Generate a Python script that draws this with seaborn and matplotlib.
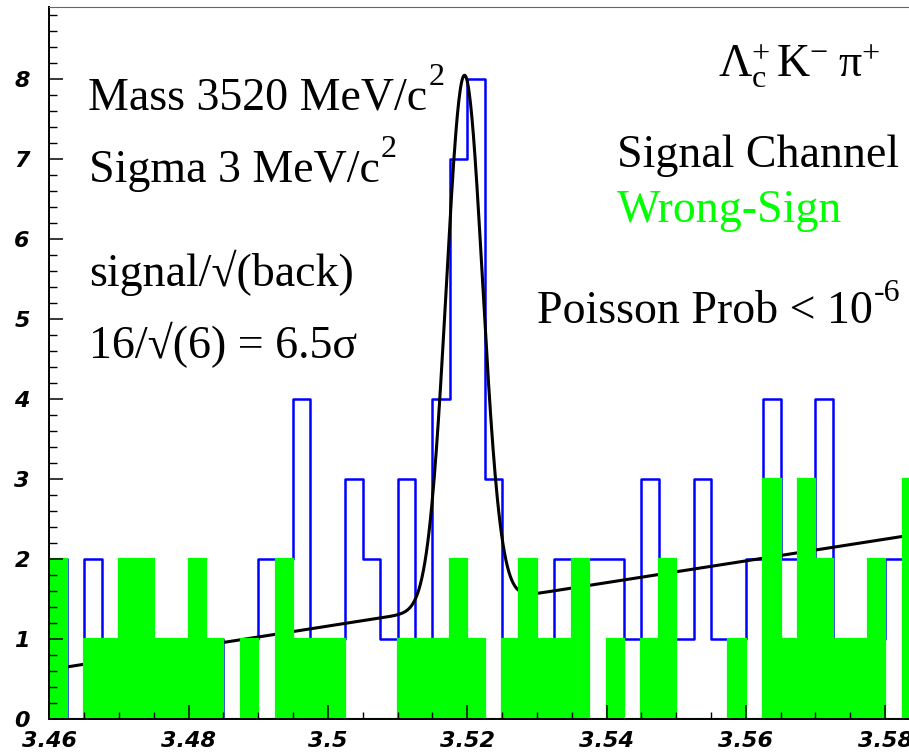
import numpy as np
import pandas as pd
import matplotlib
matplotlib.use("Agg")
import matplotlib.pyplot as plt
from matplotlib.ticker import MultipleLocator
import seaborn as sns

# Invariant mass of Lambda_c+ K- pi+ candidates, 2.5 MeV/c^2 bins from 3.46 GeV/c^2
bin_start = 3.46
bin_width = 0.0025
signal_counts = [2, 0, 2, 1, 1, 1, 1, 1, 1, 1,
                 0, 1, 2, 2, 4, 1, 1, 3, 2, 1,
                 3, 1, 4, 7, 8, 3, 1, 1, 1, 2,
                 2, 2, 2, 1, 3, 1, 1, 3, 1, 1,
                 2, 4, 2, 2, 4, 1, 1, 1, 2, 2]
wrong_sign_counts = [2, 0, 1, 1, 2, 2, 1, 1, 2, 1,
                     0, 1, 0, 2, 1, 1, 1, 0, 0, 0,
                     1, 1, 1, 2, 1, 0, 1, 2, 1, 1,
                     2, 0, 1, 0, 1, 2, 0, 0, 0, 1,
                     0, 3, 1, 3, 2, 1, 1, 2, 0, 3]

# Gaussian peak on a linear background
fit_mass = 3.5196
fit_sigma = 0.0026
fit_amplitude = 6.62
bg_intercept = 0.62   # value at 3.46
bg_slope = 13.6       # per GeV/c^2

xtick_values = [3.46, 3.48, 3.50, 3.52, 3.54, 3.56, 3.58]
xtick_labels = ["3.46", "3.48", "3.5", "3.52", "3.54", "3.56", "3.58"]
ytick_values = [0, 1, 2, 3, 4, 5, 6, 7, 8]

edges = bin_start + bin_width * np.arange(len(signal_counts) + 1)
centers = edges[:-1] + bin_width / 2
bin_edges = [float(e) for e in edges]
hist_df = pd.DataFrame({"mass": centers,
                        "signal": signal_counts,
                        "wrong_sign": wrong_sign_counts})

m_grid = np.linspace(edges[0], edges[-1], 1200)
fit_curve = (bg_intercept + bg_slope * (m_grid - bin_start)
             + fit_amplitude * np.exp(-0.5 * ((m_grid - fit_mass) / fit_sigma) ** 2))
fit_df = pd.DataFrame({"mass": m_grid, "fit": fit_curve})

plt.rcParams["mathtext.fontset"] = "custom"
plt.rcParams["mathtext.rm"] = "Liberation Serif"
plt.rcParams["mathtext.it"] = "Liberation Serif:italic"
plt.rcParams["mathtext.bf"] = "Liberation Serif:bold"

W, H = 909, 755
fig = plt.figure(figsize=(W / 100, H / 100), dpi=100)
x0_px, y0_px = 49.3, 719.3
px_per_gev = 6965.0
px_per_count = 80.0
x_lo, x_hi = 3.46, 3.585
y_lo, y_hi = 0.0, 8.9
ax = fig.add_axes([x0_px / W, (H - y0_px) / H,
                   (x_hi - x_lo) * px_per_gev / W,
                   (y_hi - y_lo) * px_per_count / H])

# signal channel: open blue histogram
sns.histplot(data=hist_df, x="mass", weights="signal", bins=bin_edges,
             element="step", fill=False, color="#0000ff", linewidth=1.8,
             zorder=1.0, ax=ax)
# fitted curve
sns.lineplot(data=fit_df, x="mass", y="fit", estimator=None, sort=False,
             color="black", linewidth=2.2, zorder=1.2, ax=ax)
# wrong-sign: solid green bars
sns.histplot(data=hist_df, x="mass", weights="wrong_sign", bins=bin_edges,
             element="bars", fill=True, color="#00ff00", alpha=1.0,
             edgecolor="#00ff00", linewidth=1.6, zorder=1.3, ax=ax)

ax.set_xlim(x_lo, x_hi)
ax.set_ylim(y_lo, y_hi)
ax.set_xlabel("")
ax.set_ylabel("")
ax.set_axisbelow(False)

tick_font = dict(family="DejaVu Sans", weight="bold", style="italic", size=16)
ax.set_xticks(xtick_values)
ax.set_xticklabels(xtick_labels, fontdict=tick_font)
ax.set_yticks(ytick_values)
ax.set_yticklabels([str(v) for v in ytick_values], fontdict=tick_font)
ax.xaxis.set_minor_locator(MultipleLocator(0.005))
ax.yaxis.set_minor_locator(MultipleLocator(0.2))
ax.tick_params(axis="both", which="both", direction="in", top=False, right=False,
               color="black")
ax.tick_params(axis="x", which="major", length=10, width=1.1, pad=8.3)
ax.tick_params(axis="x", which="minor", length=5, width=1.0)
ax.tick_params(axis="y", which="major", length=10, width=1.1, pad=14.0)
ax.tick_params(axis="y", which="minor", length=5.8, width=1.0)

for side in ("left", "bottom"):
    ax.spines[side].set_linewidth(1.4)
    ax.spines[side].set_color("black")
ax.spines["top"].set_linewidth(0.8)
ax.spines["top"].set_color("#666666")
ax.spines["right"].set_visible(False)


def put(x_px, y_px, s, size=33, **kw):
    return fig.text(x_px / W, 1 - y_px / H, s, va="baseline", ha="left",
                    family="Liberation Serif", fontsize=size, **kw)


renderer = fig.canvas.get_renderer()


def put_with_sup(x_px, y_px, s, sup, sup_size=23, sup_rise=21, gap=1):
    """Text followed by a raised, smaller exponent written as plain text."""
    t = put(x_px, y_px, s)
    right_px = t.get_window_extent(renderer).x1
    put(right_px + gap, y_px - sup_rise, sup, size=sup_size)


put_with_sup(88, 110, "Mass 3520 MeV/c", "2", sup_rise=25)
put_with_sup(89, 182, "Sigma 3 MeV/c", "2", sup_rise=25)
put(89, 286, "signal/\u221a(back)")
put(89, 358, "16/\u221a(6) = 6.5\u03c3")
put(718, 78, r"$\mathregular{\Lambda_{c}^{+}\,K^{-}\;\pi^{+}}$")
put(617, 167, "Signal Channel")
put(617, 222, "Wrong-Sign", color="#00ff00")
put_with_sup(537, 323, "Poisson Prob < 10", "-6", sup_rise=22)

fig.savefig("out.png", dpi=100)
